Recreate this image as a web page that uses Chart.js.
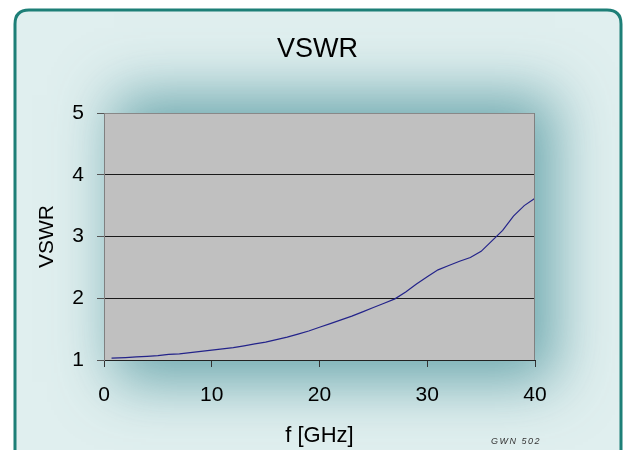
<!DOCTYPE html>
<html>
<head>
<meta charset="utf-8">
<script src="https://cdn.jsdelivr.net/npm/chart.js@4.4.0/dist/chart.umd.min.js"></script>
<style>
  html, body { margin: 0; padding: 0; background: #ffffff; }
  #wrap { width: 624px; height: 450px; position: relative; }
</style>
</head>
<body>
<div id="wrap"><canvas id="c" width="624" height="450"></canvas></div>
<script>
// ---- data ----
const chartTitle = 'VSWR';
const xTitle = 'f [GHz]';
const yTitle = 'VSWR';
const footnote = 'GWN 502';
const freqGHz = [0.7, 2, 3, 4, 5, 6, 7, 8, 9, 10, 11, 12, 13, 14, 15, 16, 17, 18, 19, 20,
                 21, 22, 23, 24, 25, 26, 27, 28, 29, 30, 31, 32, 33, 34, 35, 36, 37, 38, 39, 40];
const vswr    = [1.03, 1.04, 1.05, 1.06, 1.07, 1.09, 1.10, 1.12, 1.14, 1.16, 1.18, 1.20, 1.23, 1.26, 1.29, 1.33, 1.37, 1.42, 1.47, 1.53,
                 1.59, 1.65, 1.71, 1.78, 1.85, 1.92, 1.99, 2.10, 2.23, 2.35, 2.46, 2.53, 2.60, 2.66, 2.76, 2.93, 3.10, 3.33, 3.50, 3.62];
const xMin = 0, xMax = 40, xStep = 10;
const yMin = 1, yMax = 5, yStep = 1;

const points = freqGHz.map((f, i) => ({ x: f, y: vswr[i] }));

const FONT = "'Liberation Sans', Arial, sans-serif";

const backgroundPlugin = {
  id: 'panelBackground',
  beforeDraw(chart) {
    const ctx = chart.ctx;
    const a = chart.chartArea;
    ctx.save();
    ctx.fillStyle = '#ffffff';
    ctx.fillRect(0, 0, chart.width, chart.height);
    // rounded panel
    const px = 15, py = 10, pw = 606, ph = 480, r = 14;
    ctx.beginPath();
    ctx.moveTo(px + r, py);
    ctx.lineTo(px + pw - r, py);
    ctx.quadraticCurveTo(px + pw, py, px + pw, py + r);
    ctx.lineTo(px + pw, py + ph);
    ctx.lineTo(px, py + ph);
    ctx.lineTo(px, py + r);
    ctx.quadraticCurveTo(px, py, px + r, py);
    ctx.closePath();
    ctx.fillStyle = '#e0efef';
    ctx.fill();
    ctx.save();
    ctx.clip();
    // soft teal glow around the plot area (only the blurred shadow is visible)
    const off = 2000;
    ctx.shadowColor = 'rgba(80,150,158,0.8)';
    ctx.shadowBlur = 55;
    ctx.shadowOffsetX = off;
    ctx.fillStyle = '#000000';
    ctx.fillRect(a.left + 10 - off, a.top - 18, a.right - a.left + 10, a.bottom - a.top + 40);
    ctx.restore();
    ctx.lineWidth = 3;
    ctx.strokeStyle = '#1d7f77';
    ctx.stroke();
    // plot area
    ctx.fillStyle = '#c0c0c0';
    ctx.fillRect(a.left, a.top, a.right - a.left, a.bottom - a.top);
    ctx.restore();
  },
  afterDraw(chart) {
    const ctx = chart.ctx;
    ctx.save();
    ctx.fillStyle = '#333333';
    ctx.font = "italic 9px " + FONT;
    ctx.textAlign = 'center';
    ctx.textBaseline = 'middle';
    if ('letterSpacing' in ctx) ctx.letterSpacing = '1.5px';
    ctx.fillText(footnote, 516, 441);
    ctx.restore();
  }
};

new Chart(document.getElementById('c'), {
  type: 'line',
  data: {
    datasets: [{
      data: points,
      borderColor: '#23238a',
      borderWidth: 1.2,
      pointRadius: 0,
      tension: 0,
      fill: false
    }]
  },
  options: {
    responsive: false,
    animation: false,
    events: [],
    layout: { padding: { left: 11, top: 0, right: 0, bottom: 0 } },
    plugins: {
      legend: { display: false },
      tooltip: { enabled: false },
      title: {
        display: true,
        text: chartTitle,
        color: '#000000',
        font: { family: FONT, size: 27, weight: 'normal', lineHeight: 1.2 },
        padding: { top: 32.9, bottom: 47.7 }
      }
    },
    scales: {
      x: {
        type: 'linear',
        min: xMin, max: xMax,
        afterFit(s) { s.height = 90; },
        ticks: { stepSize: xStep, color: '#000000', padding: 16, font: { family: FONT, size: 21 } },
        grid: { drawOnChartArea: false, drawTicks: true, tickLength: 7, tickColor: '#333333' },
        border: { color: '#222222', width: 1 },
        title: { display: true, text: xTitle, color: '#000000',
                 font: { family: FONT, size: 22 }, padding: { top: 0, bottom: 0.8 } }
      },
      y: {
        type: 'linear',
        min: yMin, max: yMax,
        afterFit(s) { s.width = 93; },
        ticks: { stepSize: yStep, color: '#000000', padding: 13, font: { family: FONT, size: 21 } },
        grid: {
          drawOnChartArea: true, drawTicks: true, tickLength: 7,
          tickColor: '#555555',
          color: (c) => (c.tick && c.tick.value === yMax) ? '#888888' : '#1a1a1a',
          lineWidth: 1
        },
        border: { color: '#808080', width: 1 },
        title: { display: true, text: yTitle, color: '#000000',
                 font: { family: FONT, size: 21 }, padding: { top: 24, bottom: 0 } }
      },
      yRight: {
        type: 'linear',
        position: 'right',
        min: yMin, max: yMax,
        afterFit(s) { s.width = 89; },
        ticks: { display: false },
        grid: { display: false, drawTicks: false },
        border: { display: false }
      }
    }
  },
  plugins: [backgroundPlugin, {
    id: 'rightBorder',
    afterDatasetsDraw(chart) {
      const a = chart.chartArea, ctx = chart.ctx;
      ctx.save();
      ctx.strokeStyle = '#808080';
      ctx.lineWidth = 1;
      ctx.beginPath();
      ctx.moveTo(a.right - 0.5, a.top);
      ctx.lineTo(a.right - 0.5, a.bottom);
      ctx.stroke();
      ctx.restore();
    }
  }]
});
</script>
</body>
</html>
